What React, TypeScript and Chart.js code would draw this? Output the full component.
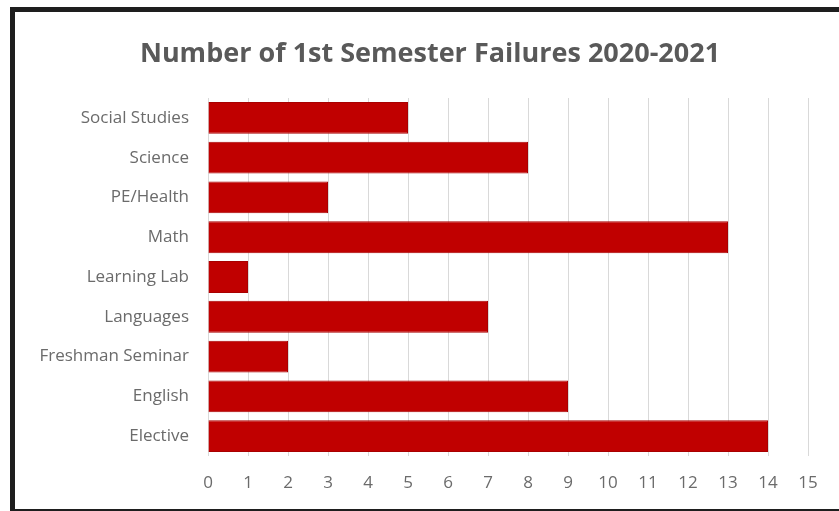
import React, { useEffect, useRef } from "react";
import { Chart, registerables } from "chart.js";

Chart.register(...registerables);

const categories = ["Social Studies", "Science", "PE/Health", "Math", "Learning Lab", "Languages", "Freshman Seminar", "English", "Elective"];
const failures = [5, 8, 3, 13, 1, 7, 2, 9, 14];
const titleText = "Number of 1st Semester Failures 2020-2021";
const xMin = 0;
const xMax = 15;

const FONT = "'Open Sans', 'Liberation Sans', sans-serif";

const titlePlugin = {
  id: "customTitle",
  afterDraw(chart: any) {
    const ctx = chart.ctx;
    ctx.save();
    ctx.font = `bold 27px ${FONT}`;
    ctx.fillStyle = "#595959";
    ctx.textAlign = "center";
    ctx.textBaseline = "alphabetic";
    ctx.fillText(titleText, 430, 62);
    ctx.restore();
  },
};

export default function App() {
  const ref = useRef<HTMLCanvasElement | null>(null);
  useEffect(() => {
    if (!ref.current) return;
    const chart = new Chart(ref.current, {
      type: "bar",
      data: {
        labels: categories,
        datasets: [
          {
            data: failures,
            backgroundColor: "#c00000",
            borderColor: "#a80000",
            borderWidth: 1,
            categoryPercentage: 1,
            barPercentage: 0.8,
          },
        ],
      },
      options: {
        indexAxis: "y",
        animation: false,
        responsive: false,
        maintainAspectRatio: false,
        layout: { padding: { top: 98, right: 31, bottom: 0, left: 0 } },
        plugins: { legend: { display: false }, title: { display: false }, tooltip: { enabled: false } },
        scales: {
          x: {
            min: xMin,
            max: xMax,
            ticks: { stepSize: 1, color: "#6b6b6b", font: { family: FONT, size: 17 }, padding: 17 },
            grid: { color: "#d9d9d9", drawTicks: false },
            border: { display: false },
            afterFit: (s: any) => { s.height = 55; },
          },
          y: {
            ticks: { color: "#6b6b6b", font: { family: FONT, size: 17 }, padding: 11 },
            grid: { display: false },
            border: { display: false },
            afterFit: (s: any) => { s.width = 208; },
          },
        },
      },
      plugins: [titlePlugin],
    });
    return () => chart.destroy();
  }, []);
  return (
    <div style={{ position: "fixed", left: 0, top: 0, width: 839, height: 511, background: "#fff", overflow: "hidden" }}>
      <canvas ref={ref} width={839} height={511} style={{ position: "absolute", left: 0, top: 0 }} />
      <div
        style={{
          position: "absolute",
          left: 10,
          top: 7,
          width: 900,
          height: 497,
          borderLeft: "5px solid #1e1e1e",
          borderTop: "5px solid #1e1e1e",
          borderBottom: "4px solid #1e1e1e",
          pointerEvents: "none",
        }}
      />
    </div>
  );
}
